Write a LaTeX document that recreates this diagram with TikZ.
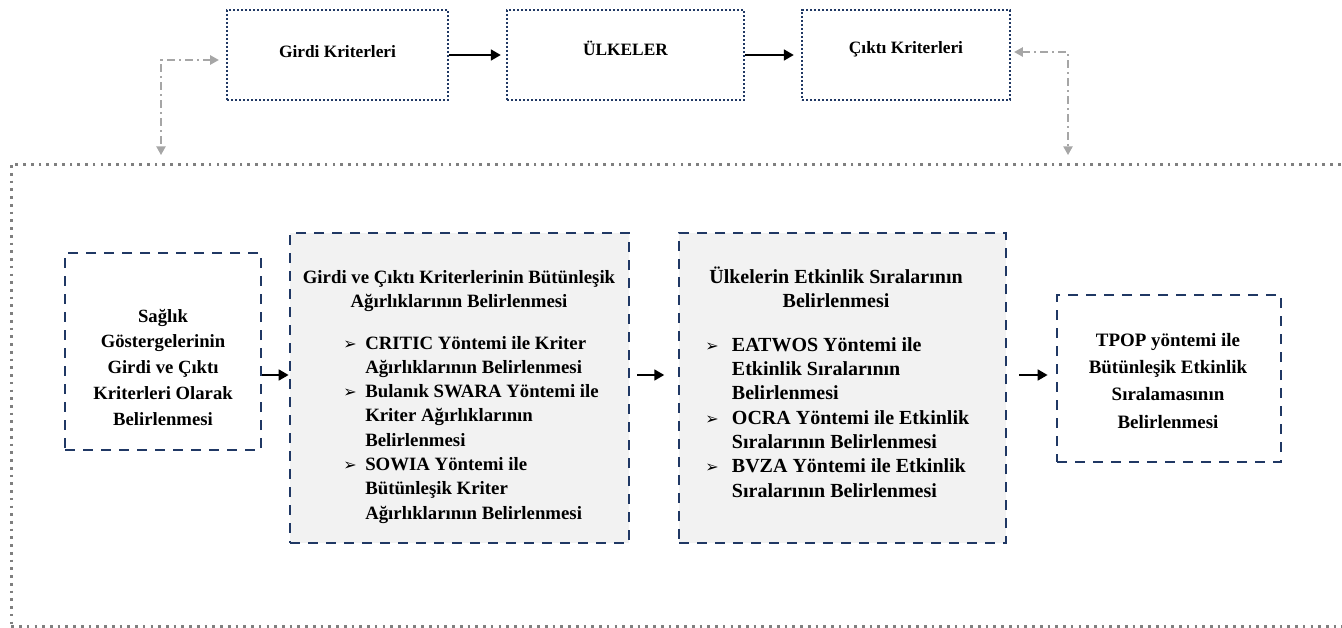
\documentclass[tikz,border=0pt]{standalone}
\usepackage{fontspec}
\setmainfont{Liberation Serif}
\newfontfamily\symfont{DejaVu Sans}
\usetikzlibrary{arrows.meta}
\definecolor{navy}{HTML}{203864}
\definecolor{linkgray}{HTML}{A6A6A6}
\definecolor{framegray}{HTML}{7F7F7F}
\definecolor{panel}{HTML}{F2F2F2}
\newcommand{\bul}[1]{\makebox[#1][l]{\symfont\fontsize{12}{12}\selectfont ➢}}
\newcommand{\gap}[1]{\makebox[#1]{}}
\begin{document}
\begin{tikzpicture}[x=0.75pt,y=-0.75pt,
  topbox/.style={draw=navy,line width=2.2pt,dash pattern=on 1.8pt off 1.2pt,minimum height=67.5pt,inner sep=0},
  stagebox/.style={draw=navy,line width=2pt,dash pattern=on 7.5pt off 6pt,inner sep=0},
  lbl/.style n args={2}{font=\fontsize{#1}{#2}\selectfont\bfseries,inner sep=0,anchor=base},
  flow/.style={-{Triangle[length=7.5pt,width=8pt]},line width=2.2pt},
  link/.style={{Triangle[length=6.5pt,width=7pt]}-{Triangle[length=6.5pt,width=7pt]},draw=linkgray,line width=1pt,dash pattern=on 6pt off 3pt on 1.5pt off 3pt}]
  \useasboundingbox (0,0) rectangle (1342,628);
  % top row
  \node[topbox,minimum width=165.75pt] (girdi) at (337.5,55) {};
  \node[topbox,minimum width=177.75pt] (ulke) at (625.5,55) {};
  \node[topbox,minimum width=156pt] (cikti) at (906,55) {};
  \node[lbl={13}{16pt}] (girdit) at (337.5,57) {Girdi Kriterleri};
  \node[lbl={13}{16pt}] (ulket) at (625.5,55) {ÜLKELER};
  \node[lbl={13}{16pt}] (ciktit) at (906,53) {Çıktı Kriterleri};
  \draw[flow,shorten >=3.5pt] (girdi) -- (ulke);
  \draw[flow,shorten >=5pt] (ulke) -- (cikti);
  % outer frame
  \node[draw=framegray,line width=2pt,dash pattern=on 2pt off 3.8pt,minimum width=1012.5pt,minimum height=346.5pt,inner sep=0,anchor=north west] (frame) at (10,163) {};
  \coordinate (lc) at (161,60);
  \coordinate (rc) at (1068,52);
  \draw[link,shorten <=5pt,shorten >=6pt] (girdi.west |- lc) -- (lc) -- (lc |- frame.north);
  \draw[link,shorten <=2pt,shorten >=6pt] (cikti.east |- rc) -- (rc) -- (rc |- frame.north);
  % stages
  \node[stagebox,minimum width=147pt,minimum height=147.75pt] (sagl) at (163,351.5) {};
  \node[stagebox,fill=panel,minimum width=254.25pt,minimum height=232.5pt] (agirlik) at (459.5,388) {};
  \node[stagebox,fill=panel,minimum width=245.25pt,minimum height=232.5pt] (sira) at (842.5,388) {};
  \node[stagebox,minimum width=168pt,minimum height=125.25pt] (tpop) at (1169,378.5) {};
  \node[lbl={14}{19.3pt},align=center] (saglt) at (163,425) {Sağlık\\Göstergelerinin\\Girdi ve Çıktı\\Kriterleri Olarak\\Belirlenmesi};
  \node[lbl={14.1}{17.3pt},align=center] (agirlikt) at (459,307) {Girdi ve Çıktı Kriterlerinin Bütünleşik\\Ağırlıklarının Belirlenmesi};
  \node[lbl={14.1}{18.2pt},align=left,anchor=base west] (agirlikl) at (343,519) {\bul{16.5pt}CRITIC Yöntemi ile Kriter\\\gap{16.5pt}Ağırlıklarının Belirlenmesi\\\bul{16.5pt}Bulanık SWARA Yöntemi ile\\\gap{16.5pt}Kriter Ağırlıklarının\\\gap{16.5pt}Belirlenmesi\\\bul{16.5pt}SOWIA Yöntemi ile\\\gap{16.5pt}Bütünleşik Kriter\\\gap{16.5pt}Ağırlıklarının Belirlenmesi};
  \node[lbl={15}{17.8pt},align=center] (sirat) at (836,307) {Ülkelerin Etkinlik Sıralarının\\Belirlenmesi};
  \node[lbl={15}{18.2pt},align=left,anchor=base west] (siral) at (705,497) {\bul{20pt}EATWOS Yöntemi ile\\\gap{20pt}Etkinlik Sıralarının\\\gap{20pt}Belirlenmesi\\\bul{20pt}OCRA Yöntemi ile Etkinlik\\\gap{20pt}Sıralarının Belirlenmesi\\\bul{20pt}BVZA Yöntemi ile Etkinlik\\\gap{20pt}Sıralarının Belirlenmesi};
  \node[lbl={14.2}{20.3pt},align=center] (tpopt) at (1168,428) {TPOP yöntemi ile\\Bütünleşik Etkinlik\\Sıralamasının\\Belirlenmesi};
  \coordinate (row) at (0,375);
  \draw[flow] (sagl.east |- row) -- (agirlik.west |- row);
  \draw[flow,shorten <=5pt,shorten >=10pt] (agirlik.east |- row) -- (sira.west |- row);
  \draw[flow,shorten <=9pt,shorten >=6pt] (sira.east |- row) -- (tpop.west |- row);
\end{tikzpicture}
\end{document}
